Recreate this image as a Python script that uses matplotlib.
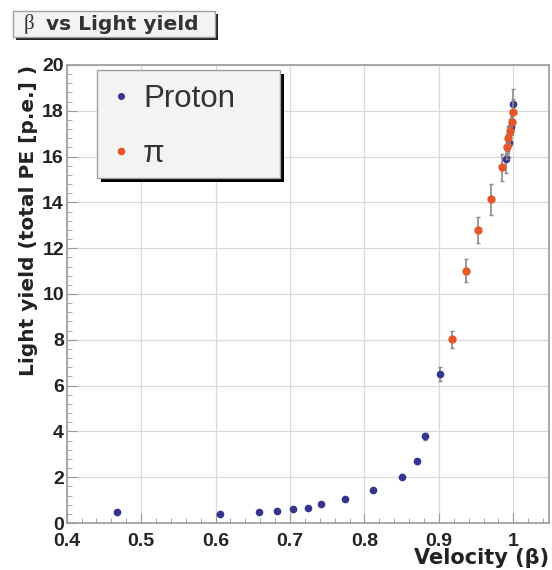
import matplotlib.pyplot as plt
import matplotlib.patches as patches
from matplotlib.ticker import MultipleLocator
import numpy as np

# proton points (beta, light yield, error)
proton_beta = [0.468, 0.606, 0.659, 0.682, 0.704, 0.724, 0.741, 0.774, 0.811,
               0.851, 0.871, 0.882, 0.902, 0.990, 0.994, 0.997, 0.999]
proton_ly = [0.50, 0.41, 0.50, 0.51, 0.59, 0.66, 0.81, 1.03, 1.44,
             2.03, 2.69, 3.78, 6.50, 15.9, 16.6, 17.3, 18.3]
proton_err = [0.05, 0.05, 0.05, 0.05, 0.05, 0.05, 0.05, 0.06, 0.08,
              0.1, 0.12, 0.15, 0.3, 0.6, 0.6, 0.6, 0.65]

# pion points
pion_beta = [0.918, 0.936, 0.953, 0.970, 0.985, 0.9915, 0.9935, 0.996, 0.998, 0.9995]
pion_ly = [8.02, 11.02, 12.8, 14.13, 15.53, 16.43, 16.8, 17.1, 17.5, 17.95]
pion_err = [0.38, 0.5, 0.57, 0.68, 0.6, 0.55, 0.55, 0.55, 0.55, 0.55]

W, H = 552, 570
fig = plt.figure(figsize=(W / 100, H / 100), dpi=100)
plt.rcParams['font.family'] = ['Liberation Sans', 'DejaVu Sans']

def fx(px):
    return px / W

def fy(py):
    return 1 - py / H

ax = fig.add_axes([fx(66.7), fy(523), fx(549) - fx(66.7), fy(65) - fy(523)])

blue = '#35358f'
red = '#e4572a'
errc = '#8a8a8a'

p = ax.errorbar(proton_beta, proton_ly, yerr=proton_err, fmt='o', color=blue,
                ecolor=errc, elinewidth=1.2, capsize=1.5, markersize=4.5, label='Proton', zorder=3)
q = ax.errorbar(pion_beta, pion_ly, yerr=pion_err, fmt='o', color=red,
                ecolor=errc, elinewidth=1.2, capsize=1.5, markersize=5, label='π', zorder=4)

ax.set_xlim(0.4, 1.048)
ax.set_ylim(0, 20)
ax.xaxis.set_major_locator(MultipleLocator(0.1))
ax.xaxis.set_minor_locator(MultipleLocator(0.02))
ax.yaxis.set_major_locator(MultipleLocator(2))
ax.yaxis.set_minor_locator(MultipleLocator(0.4))
ax.set_xticks(np.arange(0.4, 1.01, 0.1))
ax.set_xticklabels(['0.4', '0.5', '0.6', '0.7', '0.8', '0.9', '1'])
ax.grid(True, which='major', color='#d9d9d9', lw=0.9)
ax.set_axisbelow(True)
for s in ax.spines.values():
    s.set_color('#9a9a9a')
    s.set_linewidth(1.2)
ax.tick_params(which='both', direction='in', colors='#9a9a9a', labelcolor='#222222',
               labelsize=14)
ax.tick_params(which='major', length=7)
ax.tick_params(which='minor', length=3.5)
ax.tick_params(axis='x', pad=7)
ax.tick_params(axis='y', pad=2)
for lab in ax.get_xticklabels() + ax.get_yticklabels():
    lab.set_fontweight('bold')

ax.set_xlabel('Velocity (β)', loc='right', fontsize=15, fontweight='bold', family='DejaVu Sans',
              color='#222222', labelpad=-1)
ax.set_ylabel('Light yield (total PE [p.e.] )', loc='top', fontsize=14.5, fontweight='bold',
              family='DejaVu Sans', color='#222222', labelpad=3)

# legend box with black shadow
lx0, ly0, lx1, ly1 = 97, 70, 280, 178
ax.add_patch(patches.Rectangle((fx(lx0 + 4), fy(ly1 + 4)), fx(lx1 - lx0), fy(ly0) - fy(ly1),
                               transform=fig.transFigure, facecolor='black', edgecolor='none',
                               zorder=5, clip_on=False))
ax.add_patch(patches.Rectangle((fx(lx0), fy(ly1)), fx(lx1 - lx0), fy(ly0) - fy(ly1),
                               transform=fig.transFigure, facecolor='#f3f3f3', edgecolor='#a0a0a0',
                               lw=1, zorder=6, clip_on=False))
leg = ax.legend(handles=[p[0], q[0]], labels=['Proton', 'π'], loc='upper left',
                bbox_to_anchor=(fx(112), fy(84)), bbox_transform=fig.transFigure,
                frameon=False, fontsize=22.5, handlelength=0.6, handletextpad=0.4, labelspacing=0.8,
                borderpad=0, borderaxespad=0, markerscale=0.9)
leg.set_zorder(7)
for t in leg.get_texts():
    t.set_color('#333333')

# title box with shadow
tx0, ty0, tx1, ty1 = 13, 11, 215, 37
fig.add_artist(patches.Rectangle((fx(tx0 + 3), fy(ty1 + 3)), fx(tx1 - tx0), fy(ty0) - fy(ty1),
                                 transform=fig.transFigure, facecolor='#222222', edgecolor='none'))
fig.add_artist(patches.Rectangle((fx(tx0), fy(ty1)), fx(tx1 - tx0), fy(ty0) - fy(ty1),
                                 transform=fig.transFigure, facecolor='#f3f3f3', edgecolor='#a0a0a0', lw=1))
fig.text(fx(24), fy(24.5), 'β', family='Liberation Serif', fontsize=15, va='center', color='#333333')
fig.text(fx(46), fy(24.5), 'vs Light yield', fontsize=14.5, fontweight='bold', family='DejaVu Sans',
         va='center', color='#333333')

fig.savefig('out.png', dpi=100)
